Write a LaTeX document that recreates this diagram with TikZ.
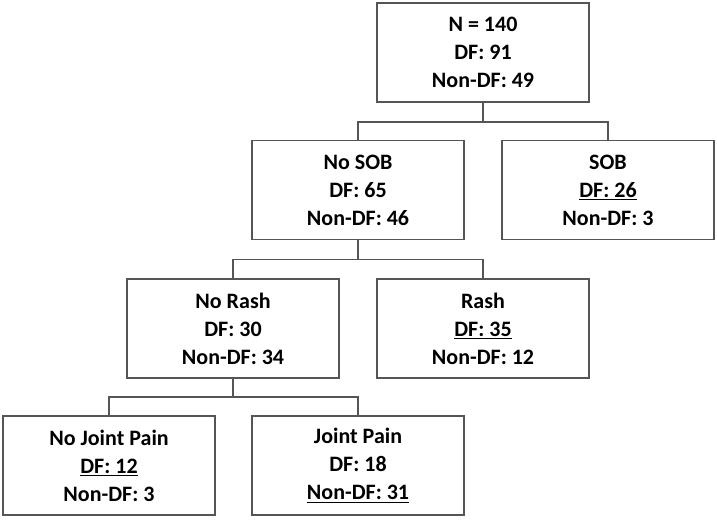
\documentclass[tikz,border=0pt]{standalone}
\usepackage{fontspec}
\setmainfont{Carlito}
\usetikzlibrary{positioning}
\definecolor{boxline}{RGB}{85, 85, 85}
\tikzset{%
    splitbox/.style={%
        draw=boxline,
        line width=1.1pt,
        fill=white,
        minimum width=159pt,
        minimum height=74pt,
        align=center,
        inner sep=2pt,
        font=\fontsize{16.5}{21}\selectfont\bfseries
    },
    branch/.style={%
        draw=boxline,
        line width=1.1pt
    }
}

\begin{document}
\begin{tikzpicture}[x=0.75pt, y=-0.75pt]

    \useasboundingbox (0, 0) rectangle (717, 519);

    % All patients
    \node[splitbox] (root) at (483, 52.5)
        {N = 140\\DF: 91\\Non-DF: 49};

    % Shortness of breath
    \node[splitbox] (no-sob) at (358, 190)
        {No SOB\\DF: 65\\Non-DF: 46};
    \node[splitbox] (sob) at (608, 190)
        {SOB\\\underline{DF: 26}\\Non-DF: 3};

    \draw[branch] (root.south) -- ++(0, 19.5) -| (no-sob.north);
    \draw[branch] (root.south) -- ++(0, 19.5) -| (sob.north);

    % Rash
    \node[splitbox] (no-rash) at (233, 328.5)
        {No Rash\\DF: 30\\Non-DF: 34};
    \node[splitbox] (rash) at (483, 328.5)
        {Rash\\\underline{DF: 35}\\Non-DF: 12};

    \draw[branch] (no-sob.south) -- ++(0, 19.5) -| (no-rash.north);
    \draw[branch] (no-sob.south) -- ++(0, 19.5) -| (rash.north);

    % Joint pain
    \node[splitbox] (no-joint) at (109, 465.5)
        {No Joint Pain\\\underline{DF: 12}\\Non-DF: 3};
    \node[splitbox] (joint) at (358, 465.5)
        {Joint Pain\\DF: 18\\\underline{Non-DF: 31}};

    \draw[branch] (no-rash.south) -- ++(0, 18.5) -| (no-joint.north);
    \draw[branch] (no-rash.south) -- ++(0, 18.5) -| (joint.north);

\end{tikzpicture}
\end{document}
